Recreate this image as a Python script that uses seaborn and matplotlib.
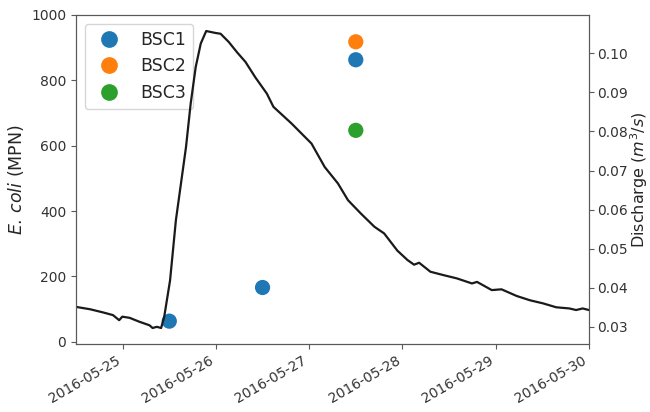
import pandas as pd
import seaborn as sns
import matplotlib.pyplot as plt
import matplotlib.dates as mdates

# discharge hydrograph, hours after 2016-05-25 00:00 and m3/s
q_hours = [-12.0, -8.4, -5.1, -2.5, -0.9, -0.1, 1.8, 4.3, 6.9, 7.7, 8.8, 9.9,
           10.7, 12.2, 13.7, 16.3, 17.5, 18.8, 20.1, 21.5, 23.9, 25.2, 27.3,
           29.4, 31.6, 34.1, 37.1, 38.8, 43.5, 48.6, 52.0, 55.4, 58.0, 61.3,
           64.8, 67.3, 70.7, 73.3, 75.0, 76.3, 79.2, 82.7, 86.0, 89.9, 91.2,
           95.0, 97.5, 101.4, 104.8, 108.2, 111.6, 115.0, 116.7, 118.4, 120.0]
q_values = [0.0351, 0.0345, 0.0337, 0.0330, 0.0317, 0.0326, 0.0323, 0.0313,
            0.0304, 0.0297, 0.0300, 0.0297, 0.0326, 0.0419, 0.0573, 0.0760,
            0.0871, 0.0965, 0.1025, 0.1057, 0.1052, 0.1050, 0.1029, 0.1003,
            0.0978, 0.0939, 0.0897, 0.0863, 0.0820, 0.0769, 0.0709, 0.0667,
            0.0624, 0.0590, 0.0556, 0.0539, 0.0495, 0.0471, 0.0459, 0.0464,
            0.0441, 0.0432, 0.0424, 0.0411, 0.0415, 0.0394, 0.0396, 0.0379,
            0.0368, 0.0360, 0.0350, 0.0347, 0.0343, 0.0347, 0.0343]

# E. coli samples
sample_sites = ["BSC1", "BSC1", "BSC1", "BSC2", "BSC3"]
sample_times = ["2016-05-25 12:00", "2016-05-26 12:00", "2016-05-27 12:00",
                "2016-05-27 12:00", "2016-05-27 12:00"]
sample_mpn = [63, 166, 863, 918, 647]
site_colors = ["#1f77b4", "#ff7f0e", "#2ca02c"]

flow = pd.DataFrame({
    "time": pd.Timestamp("2016-05-25") + pd.to_timedelta(q_hours, unit="h"),
    "discharge": q_values,
})
samples = pd.DataFrame({
    "time": pd.to_datetime(sample_times),
    "ecoli": sample_mpn,
    "site": sample_sites,
})

sns.set_style("ticks", {"axes.edgecolor": ".35", "xtick.color": ".35",
                        "ytick.color": ".35", "text.color": ".15"})
plt.rcParams["font.family"] = ["DejaVu Sans"]
plt.rcParams["xtick.major.size"] = 3.5
plt.rcParams["ytick.major.size"] = 3.5

fig, ax1 = plt.subplots(figsize=(6.5, 4.12), dpi=100)
fig.subplots_adjust(left=0.117, right=0.906, top=0.9636, bottom=0.165)
ax2 = ax1.twinx()

sns.scatterplot(data=samples, x="time", y="ecoli", hue="site",
                palette=site_colors, s=120, linewidth=0, ax=ax1)
sns.lineplot(data=flow, x="time", y="discharge", color="#1a1a1a",
             linewidth=1.6, ax=ax2)

ax1.set_xlim(pd.Timestamp("2016-05-24 12:00"), pd.Timestamp("2016-05-30"))
ax1.set_ylim(-7, 1000)
ax1.set_yticks([0, 200, 400, 600, 800, 1000])
ax2.set_ylim(0.0256, 0.1098)
ax2.set_yticks([0.03, 0.04, 0.05, 0.06, 0.07, 0.08, 0.09, 0.10])

ax1.xaxis.set_major_locator(mdates.DayLocator())
ax1.xaxis.set_major_formatter(mdates.DateFormatter("%Y-%m-%d"))
for lbl in ax1.get_xticklabels():
    lbl.set_rotation(30)
    lbl.set_ha("right")

ax1.tick_params(labelsize=10, labelcolor=".2")
ax2.tick_params(labelsize=10, labelcolor=".2", pad=2.5)
ax1.set_xlabel("")
ax2.set_xlabel("")
ax1.set_ylabel(r"$\it{E.\,coli}$ (MPN)", fontsize=12.5, color=".15")
ax2.set_ylabel(r"Discharge ($m^3/s$)", fontsize=11.5, color=".15",
               labelpad=0)

handles, labels = ax1.get_legend_handles_labels()
ax1.legend(handles, labels, loc="upper left", fontsize=12.5,
           markerscale=1.1)

fig.savefig("out.png", dpi=100)
